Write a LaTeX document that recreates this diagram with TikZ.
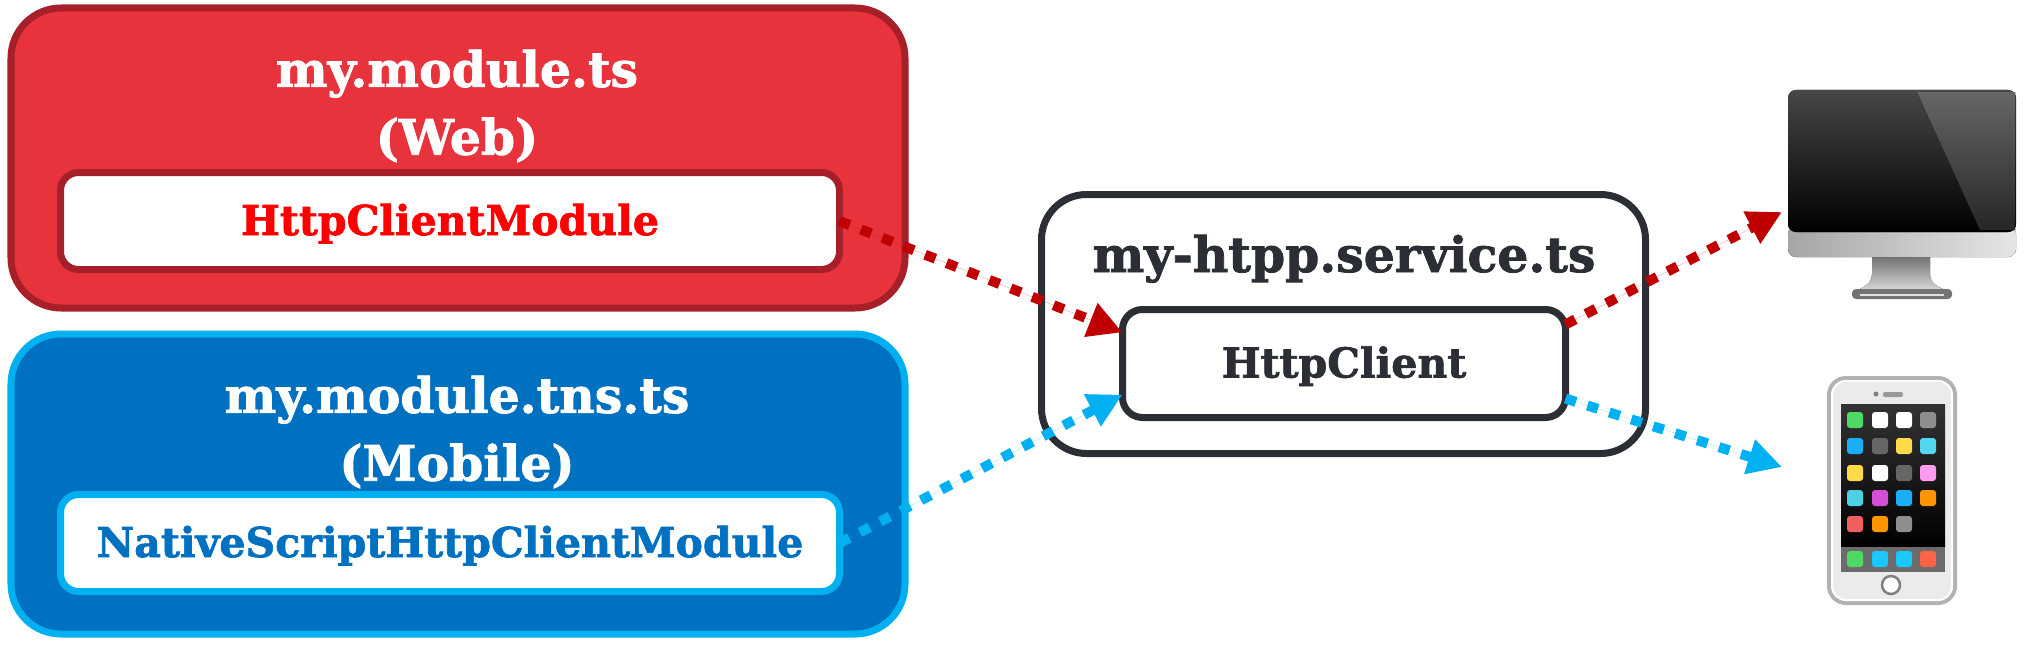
\documentclass[tikz,border=0pt]{standalone}
\usepackage{fontspec}
\usetikzlibrary{arrows.meta}
\newfontfamily\slabfont[BoldFeatures={FakeBold=1.6}]{DejaVu Serif}
\definecolor{webred}{HTML}{E8323C}
\definecolor{webdark}{HTML}{A61F29}
\definecolor{arrowred}{HTML}{C00000}
\definecolor{mobblue}{HTML}{0070C0}
\definecolor{moblight}{HTML}{00B0F0}
\definecolor{inkdark}{HTML}{2B2E34}
\definecolor{icongreen}{HTML}{4CD964}
\definecolor{iconblue}{HTML}{1BADF8}
\definecolor{iconsky}{HTML}{1AC8FB}
\definecolor{iconcyan}{HTML}{52D7F0}
\definecolor{iconteal}{HTML}{4DD0E1}
\definecolor{iconyellow}{HTML}{FFDB4C}
\definecolor{iconpink}{HTML}{FF9CF0}
\definecolor{iconpurple}{HTML}{D44FD4}
\definecolor{iconorange}{HTML}{FF9500}
\definecolor{iconred}{HTML}{EF5F5F}
\definecolor{icontomato}{HTML}{FF6347}
\definecolor{icongrey}{HTML}{8E8E8E}
\definecolor{icondim}{HTML}{666666}
\tikzset{
	bigbox/.style={draw, line width=0.07cm, inner sep=0, outer sep=0, rounded corners=0.5cm},
	modbox/.style={draw, fill=white, line width=0.07cm, inner sep=0, outer sep=0, rounded corners=0.18cm, text height=0.38cm, text depth=0.1cm},
	boxtext/.style={font=\slabfont\bfseries\fontsize{11.7}{17.6}\selectfont, align=center},
	titletext/.style={font=\slabfont\bfseries\fontsize{13.9}{19.3}\selectfont, align=center},
	flow/.style={line width=0.1cm, dash pattern=on 0.11cm off 0.12cm, -{Triangle[length=0.34cm,width=0.34cm]}},
	appicon/.style={rounded corners=0.03cm, minimum size=0.16cm, inner sep=0}
}

\begin{document}
\begin{tikzpicture}
			%%%%% START %%%%%
			\useasboundingbox (0, 0) rectangle (20.26, 6.46);
			
			\node[bigbox, fill=webred, draw=webdark, minimum width=8.94cm, minimum height=3cm] (webbox) at (4.58, 4.88) {};
			\node[bigbox, fill=mobblue, draw=moblight, minimum width=8.94cm, minimum height=3cm] (mobbox) at (4.58, 1.62) {};
			\node[bigbox, fill=white, draw=inkdark, minimum width=6.04cm, minimum height=2.59cm, rounded corners=0.45cm] (servicebox) at (13.435, 3.22) {};
			
			\node[titletext, text=white] (webtitle) at (4.57, 5.4) {my.module.ts\\(Web)};
			\node[titletext, text=white] (mobtitle) at (4.57, 2.14) {my.module.tns.ts\\(Mobile)};
			\node[titletext, text=inkdark, anchor=base] (servicetitle) at (13.44, 3.74) {my-htpp.service.ts};
			
			\node[modbox, draw=webdark, minimum width=7.79cm, minimum height=0.97cm, boxtext, text=red] (webmod) at (4.5, 4.25) {HttpClientModule};
			\node[modbox, draw=moblight, minimum width=7.79cm, minimum height=0.97cm, boxtext, text=mobblue] (mobmod) at (4.5, 1.03) {NativeScriptHttpClientModule};
			\node[modbox, draw=inkdark, minimum width=4.43cm, minimum height=1.08cm, boxtext, text=inkdark, rounded corners=0.2cm] (client) at (13.44, 2.825) {HttpClient};
			
			\coordinate (macend) at (17.82, 4.34);
			\coordinate (phoneend) at (17.82, 1.79);
			
			\draw[flow, draw=arrowred, fill=arrowred] (webmod.east) -- (client.172);
			\draw[flow, draw=moblight, fill=moblight] (mobmod.east) -- (client.188);
			\draw[flow, draw=arrowred, fill=arrowred] (client.10) -- (macend);
			\draw[flow, draw=moblight, fill=moblight] (client.-9) -- (phoneend);
			
			% desktop
			\fill[top color=black!55, bottom color=black!12] (18.72, 3.89) -- (18.72, 3.72) .. controls (18.72, 3.6) and (18.6, 3.58) .. (18.52, 3.53) -- (19.52, 3.53) .. controls (19.42, 3.58) and (19.30, 3.6) .. (19.30, 3.72) -- (19.30, 3.89) -- cycle;
			\fill[black!55, rounded corners=0.04cm] (18.52, 3.57) rectangle (19.52, 3.47);
			\fill[black!12] (18.6, 3.52) rectangle (19.44, 3.505);
			\fill[left color=black!35, right color=black!10, rounded corners=0.08cm] (17.88, 4.2) -- (17.88, 3.89) -- (20.16, 3.89) -- (20.16, 4.2) -- cycle;
			\fill[top color=black!72, bottom color=black, rounded corners=0.08cm] (17.88, 4.14) -- (17.88, 5.56) -- (20.16, 5.56) -- (20.16, 4.14) -- cycle;
			\fill[top color=black!60, bottom color=black!85] (19.17, 5.54) -- (20.15, 5.54) -- (20.15, 4.16) -- (19.8, 4.16) -- cycle;
			
			% phone
			\draw[fill=black!8, draw=black!30, line width=0.04cm, rounded corners=0.17cm] (18.29, 0.43) rectangle (19.55, 2.68);
			\draw[draw=white, line width=0.02cm, rounded corners=0.14cm] (18.32, 0.46) rectangle (19.52, 2.65);
			\fill[top color=black!80, bottom color=black] (18.41, 0.99) rectangle (19.45, 2.42);
			\fill[black!58] (18.41, 0.74) rectangle (19.45, 0.99);
			\fill[black!50] (18.76, 2.52) circle (0.025);
			\fill[black!40, rounded corners=0.02cm] (18.83, 2.49) rectangle (19.03, 2.54);
			\draw[black!50, fill=white, line width=0.025cm] (18.91, 0.61) circle (0.09);
			\foreach \ix/\iy/\icol in {18.55/4.26/icongreen, 18.8/4.26/white, 19.04/4.26/white, 19.28/4.26/icongrey,
				18.55/4.0/iconblue, 18.8/4.0/icondim, 19.04/4.0/iconyellow, 19.28/4.0/iconcyan,
				18.55/3.73/iconyellow, 18.8/3.73/white, 19.04/3.73/icondim, 19.28/3.73/iconpink,
				18.55/3.48/iconteal, 18.8/3.48/iconpurple, 19.04/3.48/iconblue, 19.28/3.48/iconorange,
				18.55/3.22/iconred, 18.8/3.22/iconorange, 19.04/3.22/icongrey,
				18.55/2.87/icongreen, 18.8/2.87/iconsky, 19.04/2.87/iconsky, 19.28/2.87/icontomato}
			{
				\node[appicon, fill=\icol] at (\ix, \iy - 2) {};
			}
			
			%%%%% END %%%%%
\end{tikzpicture}
\end{document}
